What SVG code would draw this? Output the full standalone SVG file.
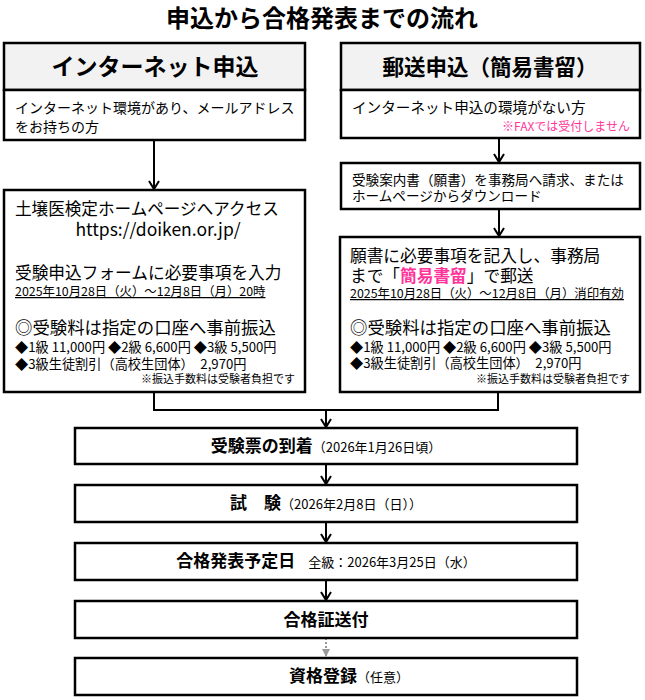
<svg xmlns="http://www.w3.org/2000/svg" width="645" height="700" viewBox="0 0 645 700">
<defs>
<style>
text{font-family:"Noto Sans CJK JP","Noto Sans CJK SC",sans-serif;fill:#000}
.box{fill:#fff;stroke:#000;stroke-width:2.5}
.hdr{fill:#f2f2f2;stroke:#000;stroke-width:2.5}
.ln{fill:none;stroke:#000;stroke-width:2}
.b{font-weight:bold}
.pink{fill:#ff3399}
.u{text-decoration:underline}
.t14{font-size:14px}
.t16{font-size:16.6px}
.t17{font-size:17.4px}
.t13{font-size:13.2px}
.t12{font-size:12.4px}
.t11{font-size:11px}
.hb{font-size:17px;font-weight:bold}
.hs{font-size:13px}
</style>
<marker id="ah" markerUnits="userSpaceOnUse" markerWidth="12" markerHeight="12" viewBox="0 0 12 12" refX="10" refY="6" orient="auto">
<path d="M2,1 L10,6 L2,11" fill="none" stroke="#000" stroke-width="2"/>
</marker>
<marker id="ag" markerUnits="userSpaceOnUse" markerWidth="10" markerHeight="10" viewBox="0 0 10 10" refX="9" refY="5" orient="auto">
<path d="M1,1 L9,5 L1,9 Z" fill="#999"/>
</marker>
</defs>
<rect width="645" height="700" fill="#fff"/>
<text x="322" y="27" text-anchor="middle" class="b" font-size="24">申込から合格発表までの流れ</text>

<g id="connectors">
<line class="ln" x1="154" y1="140" x2="154" y2="189" marker-end="url(#ah)"/>
<line class="ln" x1="499" y1="138" x2="499" y2="162" marker-end="url(#ah)"/>
<line class="ln" x1="499" y1="209" x2="499" y2="236" marker-end="url(#ah)"/>
<polyline class="ln" points="154,392 154,410 498,410 498,392"/>
<line class="ln" x1="326" y1="410" x2="326" y2="427" marker-end="url(#ah)"/>
<line class="ln" x1="326" y1="464" x2="326" y2="484" marker-end="url(#ah)"/>
<line class="ln" x1="326" y1="522" x2="326" y2="542" marker-end="url(#ah)"/>
<line class="ln" x1="326" y1="580" x2="326" y2="600" marker-end="url(#ah)"/>
<line x1="326" y1="638" x2="326" y2="657" stroke="#999" stroke-width="2" stroke-dasharray="2,2" marker-end="url(#ag)"/>
</g>

<g id="internet-header">
<rect class="hdr" x="4" y="43" width="301" height="47"/>
<text x="155" y="74.5" text-anchor="middle" class="b" font-size="23">インターネット申込</text>
</g>
<g id="internet-cond">
<rect class="box" x="4" y="90" width="301" height="50"/>
<text x="15" y="113" class="t14">インターネット環境があり、メールアドレス</text>
<text x="15" y="131.5" class="t14">をお持ちの方</text>
</g>

<g id="mail-header">
<rect class="hdr" x="341" y="43" width="299" height="47"/>
<text x="490" y="74.5" text-anchor="middle" class="b" font-size="21.5">郵送申込（簡易書留）</text>
</g>
<g id="mail-cond">
<rect class="box" x="341" y="90" width="299" height="48"/>
<text x="352" y="113" font-size="14.6">インターネット申込の環境がない方</text>
<text x="630" y="131" text-anchor="end" class="pink" font-size="12">※FAXでは受付しません</text>
</g>

<g id="mail-request">
<rect class="box" x="341" y="163" width="299" height="46"/>
<text x="352" y="184.5" font-size="13.6">受験案内書（願書）を事務局へ請求、または</text>
<text x="352" y="201" font-size="13.6">ホームページからダウンロード</text>
</g>

<g id="internet-apply">
<rect class="box" x="4" y="190" width="301" height="202"/>
<text x="15" y="215" class="t16">土壌医検定ホームページへアクセス</text>
<text x="158" y="236" text-anchor="middle" font-size="17.5">https://doiken.or.jp/</text>
<text x="15" y="279" font-size="16.7">受験申込フォームに必要事項を入力</text>
<text x="15" y="296" class="t12 u">2025年10月28日（火）～12月8日（月）20時</text>
<text x="15" y="334" class="t17">◎受験料は指定の口座へ事前振込</text>
<text x="15" y="352" class="t13">◆1級 11,000円 ◆2級 6,600円 ◆3級 5,500円</text>
<text x="15" y="369" class="t13">◆3級生徒割引（高校生団体）　2,970円</text>
<text x="295" y="382.5" text-anchor="end" class="t11">※振込手数料は受験者負担です</text>
</g>

<g id="mail-apply">
<rect class="box" x="340" y="237" width="300" height="155"/>
<text x="350" y="261.5" font-size="16.7">願書に必要事項を記入し、事務局</text>
<text x="350" y="281.5" font-size="16.7">まで「<tspan class="pink b">簡易書留</tspan>」で郵送</text>
<text x="350" y="298" class="t12 u">2025年10月28日（火）～12月8日（月）消印有効</text>
<text x="350" y="334" class="t17">◎受験料は指定の口座へ事前振込</text>
<text x="350" y="352" class="t13">◆1級 11,000円 ◆2級 6,600円 ◆3級 5,500円</text>
<text x="350" y="368" class="t13">◆3級生徒割引（高校生団体）　2,970円</text>
<text x="630" y="382.5" text-anchor="end" class="t11">※振込手数料は受験者負担です</text>
</g>

<g id="ticket">
<rect class="box" x="75" y="428" width="502" height="36"/>
<text x="326" y="452" text-anchor="middle"><tspan class="hb">受験票の到着</tspan><tspan class="hs">（2026年1月26日頃）</tspan></text>
</g>
<g id="exam">
<rect class="box" x="75" y="485" width="502" height="37"/>
<text x="326" y="509" text-anchor="middle"><tspan class="hb">試　験</tspan><tspan class="hs">（2026年2月8日（日））</tspan></text>
</g>
<g id="result">
<rect class="box" x="75" y="543" width="502" height="37"/>
<text x="326" y="567" text-anchor="middle"><tspan class="hb">合格発表予定日</tspan><tspan class="hs">　全級：2026年3月25日（水）</tspan></text>
</g>
<g id="certificate">
<rect class="box" x="75" y="601" width="502" height="37"/>
<text x="326" y="626" text-anchor="middle" class="hb">合格証送付</text>
</g>
<g id="registration">
<rect class="box" x="75" y="658" width="502" height="37"/>
<text x="289" y="682"><tspan class="hb">資格登録</tspan><tspan class="hs">（任意）</tspan></text>
</g>
</svg>
